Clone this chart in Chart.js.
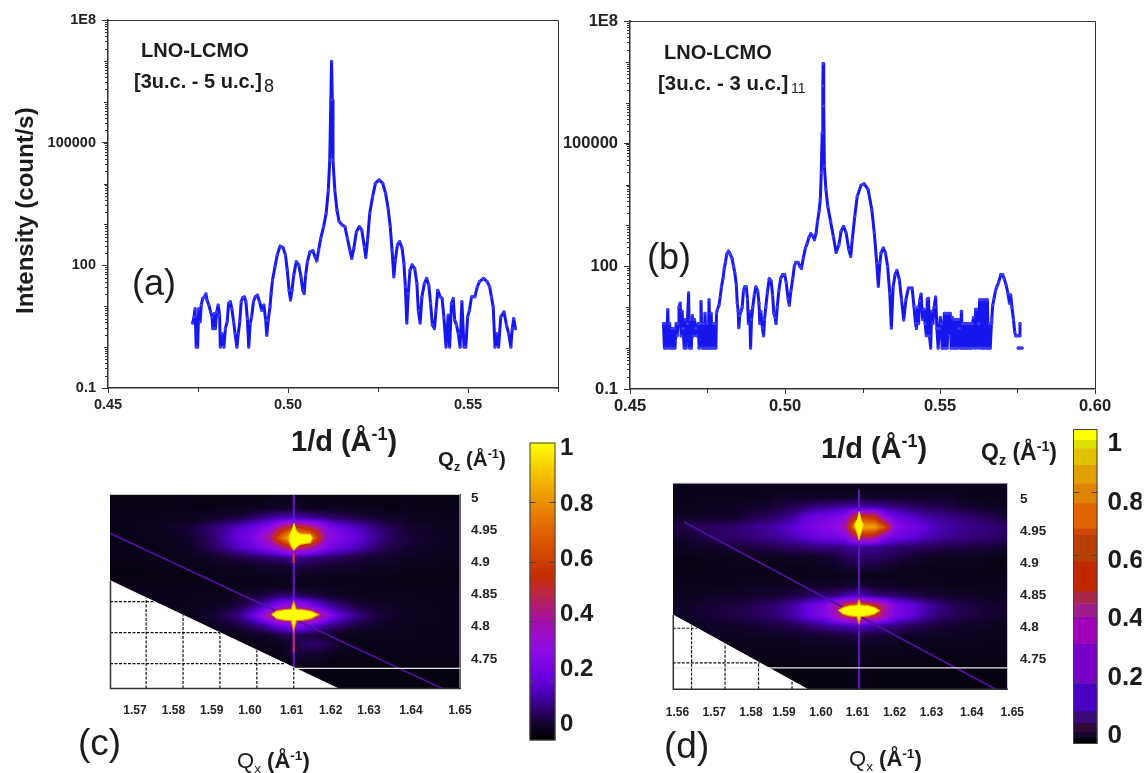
<!DOCTYPE html>
<html>
<head>
<meta charset="utf-8">
<script src="https://cdn.jsdelivr.net/npm/chart.js@4/dist/chart.umd.min.js"></script>
<style>
  body { margin: 0; background: #fff; width: 1144px; height: 773px; overflow: hidden; position: relative; }
  canvas { position: absolute; left: 0; top: 0; }
  .txt { position: absolute; transform: translateY(-50%); white-space: nowrap; color: #1c1c1c; font-family: "Liberation Sans", sans-serif; line-height: 1; z-index: 5; }
  .b { font-weight: bold; }
  sup, sub { font-size: 0.62em; line-height: 0; }
</style>
</head>
<body>
<canvas id="plotA" width="1144" height="773"></canvas>
<canvas id="plotB" width="1144" height="773"></canvas>
<canvas id="mapC" width="1144" height="773"></canvas>
<canvas id="mapD" width="1144" height="773"></canvas>
<canvas id="barC" width="1144" height="773"></canvas>
<canvas id="barD" width="1144" height="773"></canvas>

<div class="txt b" style="left:141px;top:50px;font-size:20px">LNO-LCMO</div>
<div class="txt b" style="left:134px;top:81px;font-size:20px">[3u.c. - 5 u.c.]</div>
<div class="txt" style="left:264px;top:86px;font-size:18px">8</div>
<div class="txt b" style="left:664px;top:52px;font-size:20px">LNO-LCMO</div>
<div class="txt b" style="left:658px;top:83px;font-size:20.4px">[3u.c. - 3 u.c.]</div>
<div class="txt" style="left:791px;top:88px;font-size:14px">11</div>
<div class="txt" style="left:132px;top:283px;font-size:36px">(a)</div>
<div class="txt" style="left:647px;top:257px;font-size:36px">(b)</div>
<div class="txt" style="left:78px;top:742px;font-size:37px">(c)</div>
<div class="txt" style="left:664px;top:745px;font-size:37px">(d)</div>
<div class="txt b" style="left:291px;top:441px;font-size:29px">1/d (Å<sup>-1</sup>)</div>
<div class="txt b" style="left:821px;top:448px;font-size:29px">1/d (Å<sup>-1</sup>)</div>
<div class="txt b" style="left:438px;top:459px;font-size:20.5px">Q<sub>z</sub> (Å<sup>-1</sup>)</div>
<div class="txt b" style="left:981px;top:452px;font-size:23px">Q<sub>z</sub> (Å<sup>-1</sup>)</div>
<div class="txt" style="left:237px;top:761px;font-size:22px">Q<sub>x</sub> <span class="b">(Å<sup>-1</sup>)</span></div>
<div class="txt" style="left:849px;top:759px;font-size:22px">Q<sub>x</sub> <span class="b">(Å<sup>-1</sup>)</span></div>

<script>
// panel (a): 1/d and log10 of the intensity
const qA = [
  .4735, .4739, .4742, .4745, .4749, .4752, .4756, .4759, .4763, .4768,
  .4772, .4775, .4780, .4785, .4789, .4791, .4795, .4798, .4802, .4806,
  .4810, .4812, .4816, .4822, .4826, .4831, .4835, .4840, .4844, .4849,
  .4853, .4858, .4862, .4866, .4870, .4874, .4879, .4883, .4887, .4891,
  .4895, .4899, .4904, .4909, .4915, .4921, .4927, .4933, .4938, .4941,
  .4945, .4950, .4953, .4957, .4964, .4970, .4978, .4986, .4993, .4998,
  .5003, .5007, .5011, .5016, .5023, .5030, .5036, .5041, .5045, .5049,
  .5054, .5061, .5069, .5075, .5080, .5085, .5091, .5099, .5106, .5112,
  .5116, .5119, .5121, .5123, .5125, .5130, .5136, .5142, .5150, .5158,
  .5165, .5172, .5177, .5183, .5190, .5198, .5205, .5212, .5216, .5221,
  .5227, .5235, .5243, .5253, .5263, .5271, .5278, .5284, .5289, .5294,
  .5298, .5304, .5310, .5317, .5322, .5326, .5330, .5334, .5339, .5345,
  .5352, .5358, .5362, .5367, .5372, .5379, .5385, .5391, .5396, .5401,
  .5407, .5411, .5416, .5423, .5428, .5433, .5439, .5445, .5449, .5454,
  .5459, .5463, .5468, .5473, .5478, .5483, .5489, .5494, .5499, .5504,
  .5510, .5519, .5526, .5532, .5543, .5553, .5560, .5565, .5570, .5575,
  .5580, .5585, .5591, .5600, .5607, .5613, .5619, .5623, .5627, .5632
];
const logIA = [
  .59, .74, .94, 0, 0, .94, .62, 1.03, 1.19, 1.23,
  1.30, 1.15, 1.03, .86, .74, .45, .82, .45, .86, 1.03,
  .78, 0, .33, 0, .45, .62, 1.07, 1.11, .94, .62,
  .33, 0, .33, .62, 1.11, 1.21, 1.23, 1.11, .70, 0,
  .58, .74, 1.11, 1.23, 1.27, 1.11, .90, 1.03, .66, .29,
  .66, .98, 1.31, 1.64, 1.97, 2.25, 2.47, 2.44, 2.25, 1.88,
  1.39, 1.15, 1.39, 1.76, 2.09, 2.01, 1.72, 1.39, 1.31, 1.76,
  2.09, 2.33, 2.36, 2.21, 2.11, 2.37, 2.66, 2.95, 3.27, 3.84,
  4.58, 6.05, 6.99, 6.05, 4.58, 3.84, 3.35, 3.07, 2.99, 2.95,
  2.66, 2.37, 2.17, 2.42, 2.82, 2.95, 2.86, 2.46, 2.19, 2.62,
  3.27, 3.68, 4.01, 4.09, 4.01, 3.76, 3.40, 2.95, 2.37, 1.72,
  2.13, 2.50, 2.58, 2.42, 2.05, 1.48, .59, 1.31, 1.88, 2.01,
  1.92, 1.56, .90, .59, 1.23, 1.56, 1.68, 1.52, 1.07, .54,
  .45, .90, 1.39, 1.23, 1.19, .74, 0, .78, 0, 1.07,
  1.19, .66, .54, .33, 0, 1.11, 0, 0, .74, .90,
  1.23, 1.23, 1.48, 1.60, 1.68, 1.60, 1.48, 1.23, .98, 0,
  .33, 0, .74, .86, .54, .33, 0, .45, .70, .45
];

// panel (b)
const qB = [
  .4608, .4611, .4614, .4617, .4622, .4625, .4628, .4631, .4635, .4638,
  .4642, .4645, .4649, .4652, .4655, .4658, .4662, .4665, .4668, .4671,
  .4675, .4678, .4681, .4685, .4689, .4692, .4695, .4698, .4701, .4705,
  .4708, .4712, .4715, .4720, .4723, .4726, .4729, .4733, .4736, .4739,
  .4742, .4746, .4749, .4752, .4755, .4759, .4762, .4765, .4768, .4771,
  .4775, .4777, .4779, .4782, .4787, .4791, .4795, .4800, .4804, .4808,
  .4812, .4818, .4823, .4829, .4834, .4838, .4843, .4846, .4849, .4851,
  .4854, .4858, .4862, .4866, .4870, .4875, .4879, .4882, .4886, .4889,
  .4892, .4896, .4901, .4906, .4912, .4916, .4919, .4922, .4927, .4931,
  .4934, .4938, .4943, .4949, .4955, .4960, .4964, .4968, .4971, .4975,
  .4980, .4986, .4992, .4999, .5004, .5010, .5014, .5019, .5025, .5030,
  .5035, .5042, .5048, .5053, .5059, .5066, .5071, .5077, .5083, .5089,
  .5095, .5100, .5105, .5110, .5114, .5117, .5120, .5122, .5123, .5125,
  .5127, .5132, .5138, .5147, .5156, .5165, .5174, .5181, .5189, .5197,
  .5206, .5212, .5217, .5225, .5233, .5245, .5255, .5268, .5280, .5288,
  .5296, .5301, .5306, .5310, .5317, .5324, .5331, .5338, .5343, .5349,
  .5355, .5361, .5369, .5376, .5383, .5390, .5398, .5410, .5416, .5421,
  .5424, .5428, .5431, .5434, .5439, .5444, .5448, .5452, .5456, .5459,
  .5463, .5466, .5470, .5473, .5477, .5481, .5486, .5490, .5494, .5498,
  .5501, .5504, .5507, .5510, .5514, .5517, .5520, .5523, .5527, .5530,
  .5533, .5536, .5540, .5543, .5546, .5549, .5552, .5556, .5559, .5562,
  .5565, .5569, .5570, .5573, .5576, .5579, .5583, .5586, .5589, .5592,
  .5596, .5599, .5602, .5605, .5608, .5612, .5615, .5618, .5621, .5625,
  .5628, .5631, .5634, .5638, .5641, .5644, .5647, .5651, .5653, .5656,
  .5659, .5662, .5666, .5667, .5670, .5674, .5679, .5683, .5689, .5696,
  .5702, .5707, .5713, .5719, .5724, .5728, .5732, .5737, .5741, .5744,
  .5750, .5758, .5758, .5758, .5752, .5757, .5765
];
const logIB = [
  .6, 0, .6, 0, .94, 0, .6, 0, .48, 0,
  .48, 0, .6, .3, .6, 1.0, 1.10, .3, .9, .48,
  0, .7, 0, .6, 1.35, 0, .7, 0, .8, .3,
  .7, .48, .3, .6, 0, .6, 1.14, 0, .6, 0,
  .85, 0, .6, 0, 1.18, 0, .85, 0, .6, 0,
  .6, 0, .85, .95, 1.05, 1.25, 1.5, 1.7, 1.95, 2.1,
  2.3, 2.37, 2.3, 2.2, 2.0, 1.85, 1.55, 1.1, .9, .5,
  .8, .9, 1.0, 1.4, 1.5, 1.5, 1.2, .6, .9, 0,
  .7, 1.0, 1.3, 1.5, 1.4, 1.1, .6, .9, .5, .3,
  .7, 1.0, 1.35, 1.7, 1.65, 1.3, .85, .75, .6, 1.0,
  1.4, 1.7, 1.8, 1.8, 1.6, 1.2, 1.05, 1.4, 1.7, 2.0,
  2.1, 2.1, 2.0, 1.95, 2.2, 2.45, 2.55, 2.7, 2.8, 2.75,
  2.65, 2.8, 3.1, 3.35, 3.64, 4.29, 5.27, 6.41, 6.96, 5.92,
  4.45, 3.88, 3.47, 3.10, 2.73, 2.34, 2.53, 2.86, 2.98, 2.82,
  2.41, 2.24, 2.65, 3.22, 3.71, 3.98, 4.02, 3.88, 3.39, 2.82,
  2.08, 1.51, 2.08, 2.33, 2.45, 2.33, 2.0, 1.34, .49, 1.51,
  1.79, 1.90, 1.67, 1.18, .69, 1.18, 1.47, 1.47, 1.02, .6,
  .48, 1.0, .6, 1.15, 1.32, .7, .95, .6, .3, 1.2,
  1.22, .3, 0, .9, .6, 1.0, 1.25, .48, 0, .48,
  .75, .6, 0, 0, .85, 0, .85, 0, .85, .3,
  .85, 0, .75, 0, .7, 0, .7, 0, .7, .48,
  0, .9, 0, .6, 0, .6, 0, .6, 0, .6,
  0, .6, 0, .6, .75, 0, .95, .95, 0, .6,
  1.18, 0, 1.18, 0, 1.18, 0, 1.18, 0, 1.18, 0,
  .6, 0, .6, .7, 1.05, 1.2, 1.4, 1.5, 1.6, 1.8,
  1.8, 1.7, 1.55, 1.35, 1.1, 1.3, 1.0, .7, .4, .3,
  .3, .3, .6, null, 0, 0, 0
];

const yTickValues = [0.1, 100, 100000, 100000000];
const yTickLabels = ["0.1", "100", "100000", "1E8"];
const decades = [0.1, 1, 10, 100, 1000, 10000, 100000, 1000000, 10000000];
const decadeSteps = [1, 2, 3, 4, 5, 6, 7, 8, 9];
const xTicksA = [0.45, 0.50, 0.55];
const xMinorA = [0.475, 0.525, 0.575];
const xTicksB = [0.45, 0.50, 0.55, 0.60];
const xMinorB = [0.475, 0.525, 0.575];

// reciprocal space maps, intensity x 100, top row first
const heatC = [
  [2,2,2,2,2,2,2,3,2,2,2,2,2,3,2,2,3,3,3,3,2,2,2,2,3,2,2,2,2,2,3,2,2,2,2,2],
  [3,3,3,3,3,3,3,3,3,3,3,3,3,3,4,4,5,5,5,5,4,4,4,4,3,3,3,3,3,3,3,3,3,3,3,3],
  [3,3,3,3,3,3,3,3,4,4,5,6,7,8,10,12,14,16,17,16,15,13,11,10,9,8,7,6,5,5,4,3,3,3,3,3],
  [3,3,3,4,4,4,5,6,7,9,11,13,16,19,22,26,32,46,58,58,52,40,28,23,20,17,14,11,9,8,6,5,5,4,4,3],
  [3,3,3,3,3,3,4,5,6,8,10,14,18,22,26,32,45,70,90,90,85,55,30,27,24,20,16,13,10,8,7,6,5,5,4,3],
  [3,3,3,3,3,3,4,4,5,7,9,12,15,18,21,25,30,40,52,50,44,33,25,22,19,16,13,10,8,7,6,5,5,4,4,3],
  [3,3,3,3,3,3,3,3,4,4,5,6,7,8,9,10,11,12,14,13,12,11,10,9,8,7,6,6,5,5,4,4,4,3,3,3],
  [2,2,2,2,3,3,3,3,3,3,3,3,4,4,4,5,5,5,6,7,7,6,6,5,5,5,4,4,4,4,3,3,3,3,3,3],
  [2,2,2,2,2,2,2,2,2,3,3,3,3,3,3,3,3,4,4,4,4,4,3,3,3,3,3,3,3,2,2,2,2,2,2,2],
  [3,3,3,3,3,3,3,3,3,3,3,3,3,3,3,3,3,3,3,3,3,3,3,3,3,3,3,3,3,3,3,3,3,3,3,3],
  [3,3,3,3,3,3,3,3,3,3,3,3,4,5,6,7,9,11,11,10,8,7,6,5,4,3,3,3,3,3,3,3,3,3,3,3],
  [3,3,3,3,3,3,3,3,3,4,4,5,6,8,11,15,22,30,34,34,28,20,14,11,9,7,6,5,5,4,4,3,3,3,3,3],
  [3,3,3,3,3,3,3,3,4,5,6,8,10,13,20,30,45,60,60,60,60,45,30,20,16,12,9,7,6,5,4,4,4,3,3,3],
  [3,3,3,3,3,3,3,3,3,4,4,5,6,8,10,13,18,24,28,28,24,17,13,11,9,7,6,5,4,4,4,3,3,3,3,3],
  [3,3,3,3,3,3,3,3,3,3,3,3,3,3,4,5,6,7,8,8,7,6,5,4,3,3,3,3,3,3,3,3,3,3,3,3],
  [3,3,3,3,3,3,3,3,3,3,3,3,3,3,3,3,3,3,6,8,10,10,8,6,3,3,3,3,3,3,3,3,3,3,3,3],
  [3,3,3,3,3,3,3,3,3,3,3,3,3,3,3,3,3,3,5,6,6,5,4,3,3,3,3,3,3,3,3,3,3,3,3,3],
  [2,2,2,2,2,2,2,2,2,2,2,2,2,2,2,2,2,2,2,3,3,3,2,2,2,2,2,2,2,2,2,2,2,2,2,2],
  [2,2,2,2,2,2,2,2,2,2,2,2,2,2,2,2,2,2,2,2,2,2,2,2,2,2,2,2,2,2,2,2,2,2,2,2],
  [2,2,2,2,2,2,2,2,2,2,2,2,2,2,2,2,2,2,2,2,2,2,2,2,2,2,2,2,2,2,2,2,2,2,2,2]
];
const heatD = [
  [3,3,3,3,3,3,3,3,3,3,3,3,3,3,3,3,3,3,3,3,3,3,3,3,3,3,3,3,3,3,3,3,3,3],
  [3,3,3,3,3,3,3,3,3,3,5,5,5,5,5,5,5,5,5,5,5,5,5,5,5,5,5,5,5,3,3,3,3,3],
  [3,3,3,4,4,4,5,5,6,6,7,8,9,10,12,13,14,15,16,16,15,14,12,11,10,9,8,8,7,6,6,5,5,4],
  [5,5,5,5,5,5,5,7,8,9,10,12,15,20,23,24,26,30,55,60,55,30,24,20,18,15,14,13,12,11,10,9,8,6],
  [7,8,9,9,10,10,11,12,13,14,15,18,20,24,26,28,30,40,80,85,85,65,30,26,24,20,17,15,14,13,12,12,11,10],
  [6,6,7,8,9,10,10,11,12,13,14,15,17,20,22,24,25,27,45,50,45,28,24,22,20,17,15,14,13,12,11,11,10,9],
  [4,4,5,5,6,6,7,7,8,8,9,10,10,11,12,12,12,13,14,13,13,12,11,10,10,9,9,8,8,8,7,7,7,6],
  [3,3,3,3,3,3,4,4,4,4,4,5,5,5,5,6,7,9,10,10,10,9,8,7,6,5,5,4,4,4,4,4,3,3],
  [2,2,2,3,3,3,3,3,3,3,3,3,3,3,4,4,5,6,7,7,7,6,5,4,4,3,3,3,3,3,3,3,2,2],
  [3,3,3,3,3,3,3,3,3,3,3,3,3,3,3,3,3,3,3,3,3,3,3,3,3,3,3,3,3,3,3,3,3,3],
  [3,3,3,3,3,3,3,4,4,4,4,4,4,5,5,5,5,6,6,6,5,5,5,4,4,4,4,3,3,3,3,3,3,3],
  [4,4,4,4,5,5,5,5,6,6,6,7,8,9,10,11,12,15,18,16,12,11,10,9,8,7,6,6,5,5,5,4,4,4],
  [5,5,6,6,6,7,7,8,9,10,11,13,16,20,24,28,40,55,60,60,55,42,28,24,20,16,13,11,9,8,7,6,6,5],
  [5,5,6,6,7,7,8,8,9,10,11,13,16,20,24,27,38,52,58,58,52,40,27,23,19,15,12,10,9,8,7,6,6,5],
  [4,4,4,5,5,5,5,6,6,7,7,8,9,10,12,14,15,16,18,17,15,13,12,10,9,8,7,6,6,5,5,5,4,4],
  [3,3,3,4,4,4,4,4,4,5,5,5,5,6,6,6,7,7,8,7,7,6,6,5,5,5,4,4,4,4,4,3,3,3],
  [3,3,3,3,3,3,3,3,3,3,3,3,3,4,4,4,4,4,5,4,4,4,4,3,3,3,3,3,3,3,3,3,3,3],
  [3,3,3,3,3,3,3,3,3,3,3,3,3,3,3,3,3,3,4,4,3,3,3,3,3,3,3,3,3,3,3,3,3,3],
  [2,2,2,2,2,2,2,2,2,2,2,2,2,2,2,2,2,2,3,3,2,2,2,2,2,2,2,2,2,2,2,2,2,2],
  [2,2,2,2,2,2,2,2,2,2,2,2,2,2,2,2,2,2,3,3,2,2,2,2,2,2,2,2,2,2,2,2,2,2],
  [2,2,2,2,2,2,2,2,2,2,2,2,2,2,2,2,2,2,3,3,2,2,2,2,2,2,2,2,2,2,2,2,2,2]
];

// yellow cores of the Bragg spots
const coreQxC1 = [1.6100, 1.6107, 1.6118, 1.6145, 1.6150, 1.6145, 1.6118, 1.6107, 1.6100, 1.6093, 1.6088, 1.6088, 1.6093];
const coreQzC1 = [4.9766, 4.9638, 4.9590, 4.9582, 4.9526, 4.9454, 4.9430, 4.9382, 4.9334, 4.9398, 4.9478, 4.9558, 4.9638];
const coreQxC2 = [1.6040, 1.6052, 1.6074, 1.6093, 1.6100, 1.6107, 1.6126, 1.6148, 1.6168, 1.6148, 1.6126, 1.6107, 1.6100, 1.6093, 1.6074, 1.6052];
const coreQzC2 = [4.8292, 4.8348, 4.8372, 4.8380, 4.8500, 4.8380, 4.8372, 4.8348, 4.8292, 4.8227, 4.8203, 4.8195, 4.8035, 4.8195, 4.8203, 4.8227];
const coreQxD1 = [1.6100, 1.6106, 1.6113, 1.6106, 1.6100, 1.6094, 1.6087, 1.6094];
const coreQzD1 = [4.9683, 4.9561, 4.9489, 4.9388, 4.9280, 4.9388, 4.9489, 4.9561];
const coreQxD2 = [1.6038, 1.6052, 1.6073, 1.6094, 1.6100, 1.6106, 1.6127, 1.6148, 1.6162, 1.6148, 1.6127, 1.6106, 1.6100, 1.6094, 1.6073, 1.6052];
const coreQzD2 = [4.8257, 4.8300, 4.8329, 4.8336, 4.8408, 4.8336, 4.8329, 4.8300, 4.8257, 4.8206, 4.8177, 4.8170, 4.8069, 4.8170, 4.8177, 4.8206];

const qxLabelsC = ["1.57", "1.58", "1.59", "1.60", "1.61", "1.62", "1.63", "1.64", "1.65"];
const qxLabelsD = ["1.56", "1.57", "1.58", "1.59", "1.60", "1.61", "1.62", "1.63", "1.64", "1.65"];
const qzLabels = [5, 4.95, 4.9, 4.85, 4.8, 4.75];
const barLabels = [1, 0.8, 0.6, 0.4, 0.2, 0];
const barTicks = [0.2, 0.4, 0.6, 0.8];

// colour scale, value and rgb
const cmapV = [0, .05, .1, .15, .2, .3, .4, .5, .55, .65, .75, .85, .95, 1];
const cmapC = [[0,0,0],[16,4,40],[45,0,105],[70,0,170],[100,0,220],[140,10,230],[165,16,170],[190,40,60],[195,45,0],[215,80,0],[230,120,0],[240,170,0],[250,225,0],[255,255,0]];

// stepped colour bar of panel (d)
const bandEdgesD = [0, .018, .037, .066, .103, .192, .319, .402, .446, .483, .578, .663, .684, .763, .827, .885, .938, .964, 1];
const bandColorsD = ["#000000", "#14082e", "#2d0a3a", "#3a0a78", "#4a00c0", "#7800c8", "#a000b8", "#a01e8c", "#a8284c", "#c02800", "#b84000", "#d04800", "#e06400", "#e08400", "#e0a000", "#e0c000", "#e0e000", "#ffff00"];

const FONT = "'Liberation Sans', sans-serif";
Chart.defaults.font.family = FONT;
Chart.defaults.animation = false;

const zip = (xs, ys) => xs.map((x, i) => ({ x: x, y: ys[i] }));
const setTicks = (values) => (scale) => { scale.ticks = values.map((v) => ({ value: v })); };

function colorAt(v) {
  let i = 0;
  while (i < cmapV.length - 2 && v > cmapV[i + 1]) i++;
  const t = Math.min(1, Math.max(0, (v - cmapV[i]) / (cmapV[i + 1] - cmapV[i])));
  return [0, 1, 2].map((k) => cmapC[i][k] + (cmapC[i + 1][k] - cmapC[i][k]) * t);
}

// small ticks on the log axis and between the labelled q values, plus the frame
const curveAxisPlugin = {
  id: "curveAxis",
  afterDraw(chart, args, opts) {
    const { ctx, chartArea: a, scales } = chart;
    ctx.save();
    ctx.strokeStyle = "#333";
    ctx.lineWidth = 1;
    ctx.beginPath();
    decades.forEach((d) => {
      decadeSteps.forEach((m) => {
        const y = Math.round(scales.y.getPixelForValue(d * m)) + 0.5;
        ctx.moveTo(a.left, y);
        ctx.lineTo(a.left - (m === 1 ? 4 : 3), y);
      });
    });
    opts.minor.forEach((v) => {
      const x = Math.round(scales.x.getPixelForValue(v)) + 0.5;
      ctx.moveTo(x, a.bottom);
      ctx.lineTo(x, a.bottom + 4);
    });
    ctx.moveTo(a.left, a.top + 0.5);
    ctx.lineTo(a.right + 0.5, a.top + 0.5);
    ctx.lineTo(a.right + 0.5, a.bottom);
    ctx.stroke();
    ctx.restore();
  },
};

function makeCurve(id, q, logI, box, xTicks, xMinor, xMax, tickSize, yTitle) {
  return new Chart(document.getElementById(id), {
    type: "scatter",
    data: {
      datasets: [{
        data: zip(q, logI.map((v) => (v === null ? null : Math.pow(10, v)))),
        showLine: true,
        spanGaps: false,
        borderColor: "#1616ee",
        borderWidth: 3,
        borderJoinStyle: "round",
        borderCapStyle: "round",
        pointRadius: 1.6,
        pointBackgroundColor: "#3c3cff",
        pointBorderWidth: 0,
      }],
    },
    options: {
      responsive: false,
      layout: { padding: { left: box.left - 96, top: box.top, right: 1144 - box.right, bottom: 773 - box.bottom - 30 } },
      plugins: { legend: { display: false }, tooltip: { enabled: false }, curveAxis: { minor: xMinor } },
      scales: {
        x: {
          type: "linear", min: 0.45, max: xMax,
          afterBuildTicks: setTicks(xTicks),
          afterFit: (s) => { s.height = 30; },
          grid: { drawOnChartArea: false, tickLength: 5, tickColor: "#333" },
          border: { color: "#333", width: 1.5 },
          ticks: { autoSkip: false, maxRotation: 0, padding: 3, color: "#222", font: { size: tickSize, weight: "bold" }, callback: (v) => v.toFixed(2) },
        },
        y: {
          type: "logarithmic", min: 0.1, max: 1e8,
          afterBuildTicks: setTicks(yTickValues),
          afterFit: (s) => { s.width = 96; },
          grid: { drawOnChartArea: false, tickLength: 6, tickColor: "#333" },
          border: { color: "#333", width: 1.5 },
          title: { display: !!yTitle, text: yTitle, color: "#1c1c1c", padding: 0, font: { size: 24, weight: "bold" } },
          ticks: { autoSkip: false, padding: 6, color: "#222", font: { size: tickSize, weight: "bold" }, callback: (v) => yTickLabels[yTickValues.indexOf(v)] },
        },
      },
    },
    plugins: [curveAxisPlugin],
  });
}

makeCurve("plotA", qA, logIA, { left: 108, right: 558, top: 20, bottom: 388 }, xTicksA, xMinorA, 0.575, 14.5, "Intensity (count/s)  ");
makeCurve("plotB", qB, logIB, { left: 630, right: 1095, top: 21, bottom: 389 }, xTicksB, xMinorB, 0.60, 16.5, "");

// paints the intensity table, cell values blended in value space and coloured afterwards
const heatPlugin = {
  id: "heat",
  beforeDatasetsDraw(chart, args, opts) {
    const { ctx, chartArea: a, scales } = chart;
    const w = Math.round(a.right - a.left);
    const h = Math.round(a.bottom - a.top);
    const rows = opts.table.length;
    const cols = opts.table[0].length;
    const off = document.createElement("canvas");
    off.width = w;
    off.height = h;
    const octx = off.getContext("2d");
    const img = octx.createImageData(w, h);
    for (let py = 0; py < h; py++) {
      const qz = scales.y.getValueForPixel(a.top + py + 0.5);
      const fy = Math.min(rows - 1, Math.max(0, (scales.y.max - qz) / (scales.y.max - scales.y.min) * rows - 0.5));
      const y0 = Math.floor(fy);
      const y1 = Math.min(rows - 1, y0 + 1);
      for (let px = 0; px < w; px++) {
        const qx = scales.x.getValueForPixel(a.left + px + 0.5);
        const fx = Math.min(cols - 1, Math.max(0, (qx - scales.x.min) / (scales.x.max - scales.x.min) * cols - 0.5));
        const x0 = Math.floor(fx);
        const x1 = Math.min(cols - 1, x0 + 1);
        const top = opts.table[y0][x0] * (1 - (fx - x0)) + opts.table[y0][x1] * (fx - x0);
        const bot = opts.table[y1][x0] * (1 - (fx - x0)) + opts.table[y1][x1] * (fx - x0);
        const c = colorAt((top * (1 - (fy - y0)) + bot * (fy - y0)) / 100);
        const k = (py * w + px) * 4;
        img.data[k] = c[0];
        img.data[k + 1] = c[1];
        img.data[k + 2] = c[2];
        img.data[k + 3] = 255;
      }
    }
    octx.putImageData(img, 0, 0);
    ctx.drawImage(off, a.left, a.top);
  },
  afterDraw(chart) {
    const { ctx, chartArea: a } = chart;
    ctx.save();
    ctx.lineWidth = 1;
    ctx.strokeStyle = "#c8c8c8";
    ctx.beginPath();
    ctx.moveTo(a.left, a.top + 0.5);
    ctx.lineTo(a.right - 0.5, a.top + 0.5);
    ctx.lineTo(a.right - 0.5, a.bottom);
    ctx.stroke();
    ctx.strokeStyle = "#333";
    ctx.lineWidth = 1.5;
    ctx.beginPath();
    ctx.moveTo(a.left + 0.5, chart.scales.y.getPixelForValue(chart.options.plugins.heat.wedgeTop));
    ctx.lineTo(a.left + 0.5, a.bottom);
    ctx.lineTo(a.right, a.bottom);
    ctx.stroke();
    ctx.restore();
  },
};

function line(data, color, width, order, dash) {
  return { data: data, showLine: true, pointRadius: 0, borderColor: color, borderWidth: width, order: order, borderDash: dash || [], fill: false };
}
function shape(xs, ys, color, edge, order) {
  return { data: zip(xs, ys), showLine: true, pointRadius: 0, borderColor: edge, backgroundColor: color, borderWidth: 1.2, fill: "shape", order: order };
}

function makeMap(id, m) {
  const wedgeTop = m.wedge[0];
  const wedgeEnd = m.wedge[1];
  const edgeZ = (qx) => wedgeTop + (qx - m.qx[0]) / (wedgeEnd - m.qx[0]) * (m.qz[0] - wedgeTop);
  const edgeX = (qz) => m.qx[0] + (wedgeTop - qz) / (wedgeTop - m.qz[0]) * (wedgeEnd - m.qx[0]);
  const datasets = [
    line([{ x: 1.61, y: m.streakEnd[0] }, { x: 1.61, y: m.streakEnd[1] }], m.streakColor, 2, 8),
  ];
  m.hot.forEach((s) => datasets.push(line([{ x: 1.61, y: s[0] }, { x: 1.61, y: s[1] }], s[2], 2.2, 7)));
  datasets.push(line([{ x: m.diag[0], y: m.diag[1] }, { x: m.diag[2], y: m.diag[3] }], "#5010a0", 1.6, 9));
  datasets.push(shape(m.core1[0], m.core1[1], "#ffff00", "#ffd000", 6));
  datasets.push(shape(m.core2[0], m.core2[1], "#ffff00", "#f09000", 6));
  datasets.push(shape([m.qx[0], wedgeEnd, m.qx[0]], [wedgeTop, m.qz[0], m.qz[0]], "#ffffff", "#ffffff", 5));
  datasets.push(line([{ x: m.whiteFrom, y: m.whiteZ }, { x: m.qx[1], y: m.whiteZ }], "#e8e8e8", 1.3, 4));
  m.gridQx.forEach((v) => datasets.push(line([{ x: v, y: m.qz[0] }, { x: v, y: edgeZ(v) }], "#111", 1.2, 3, [3, 1.5])));
  m.gridQz.forEach((v) => datasets.push(line([{ x: m.qx[0], y: v }, { x: edgeX(v), y: v }], "#111", 1.2, 3, [3, 1.5])));
  return new Chart(document.getElementById(id), {
    type: "scatter",
    data: { datasets: datasets },
    options: {
      responsive: false,
      layout: { padding: { left: m.box.left, top: m.box.top, right: 1144 - m.box.right - 45, bottom: 773 - m.box.bottom - 40 } },
      plugins: { legend: { display: false }, tooltip: { enabled: false }, heat: { table: m.table, wedgeTop: wedgeTop } },
      scales: {
        x: { type: "linear", display: false, min: m.qx[0], max: m.qx[1] },
        y: { type: "linear", display: false, min: m.qz[0], max: m.qz[1] },
        xt: {
          type: "linear", position: "bottom", min: m.box.left, max: m.box.right,
          afterBuildTicks: setTicks(m.xLabelAt),
          afterFit: (s) => { s.height = 40; },
          grid: { display: false, drawTicks: false }, border: { display: false },
          ticks: { autoSkip: false, maxRotation: 0, padding: m.xPad, color: "#222", font: { size: 12, weight: "bold" }, callback: (v) => m.xLabels[m.xLabelAt.indexOf(v)] },
        },
        yt: {
          type: "linear", position: "right", min: m.labelZ[0], max: m.labelZ[1],
          afterBuildTicks: setTicks(qzLabels),
          afterFit: (s) => { s.width = 45; },
          grid: { display: false, drawTicks: false }, border: { display: false },
          ticks: { autoSkip: false, padding: m.yPad, color: "#222", font: { size: 13.5, weight: "bold" }, callback: (v) => String(v) },
        },
      },
    },
    plugins: [heatPlugin],
  });
}

makeMap("mapC", {
  box: { left: 110, right: 460.5, top: 494, bottom: 688.5 },
  qx: [1.5602, 1.6552], qz: [4.71, 5.0237], labelZ: [4.704, 5.0062],
  table: heatC, wedge: [4.8839, 1.6219],
  gridQx: [1.57, 1.58, 1.59, 1.60, 1.61], gridQz: [4.85, 4.80, 4.75],
  streakEnd: [5.0237, 4.73], streakColor: "#6a12d8",
  hot: [[4.9285, 4.9125, "#c83a30"], [4.8035, 4.768, "#b82a70"]],
  diag: [1.5602, 4.9603, 1.6504, 4.7097],
  core1: [coreQxC1, coreQzC1], core2: [coreQxC2, coreQzC2],
  whiteFrom: 1.61, whiteZ: 4.7426,
  xLabels: qxLabelsC, xLabelAt: [135, 173.5, 211.7, 250, 291.7, 330.7, 369, 411, 460],
  xPad: 15, yPad: 10.5,
});
makeMap("mapD", {
  box: { left: 672.8, right: 1008, top: 482.7, bottom: 689.3 },
  qx: [1.5544, 1.6545], qz: [4.712, 5.0098], labelZ: [4.704, 5.0259],
  table: heatD, wedge: [4.8192, 1.5946],
  gridQx: [1.56, 1.57, 1.58, 1.59], gridQz: [4.80, 4.75],
  streakEnd: [5.0, 4.712], streakColor: "#5a14b8",
  hot: [],
  diag: [1.5578, 4.9532, 1.6508, 4.712],
  core1: [coreQxD1, coreQzD1], core2: [coreQxD2, coreQzD2],
  whiteFrom: 1.5544, whiteZ: 4.7428,
  xLabels: qxLabelsD, xLabelAt: [677.5, 714.3, 751, 784, 821, 857.5, 894.6, 931.4, 971.8, 1012.3],
  xPad: 16, yPad: 12,
});

// colour bars
const barPlugin = {
  id: "barFrame",
  afterDraw(chart) {
    const { ctx, chartArea: a, scales } = chart;
    ctx.save();
    ctx.strokeStyle = "#444";
    ctx.lineWidth = 1;
    ctx.strokeRect(a.left + 0.5, a.top + 0.5, a.right - a.left - 1, a.bottom - a.top - 1);
    ctx.beginPath();
    barTicks.forEach((v) => {
      const y = Math.round(scales.y.getPixelForValue(v)) + 0.5;
      ctx.moveTo(a.left, y);
      ctx.lineTo(a.left + 6, y);
      ctx.moveTo(a.right - 6, y);
      ctx.lineTo(a.right, y);
    });
    ctx.stroke();
    ctx.restore();
  },
};

function makeBar(id, box, labelRange, fontSize, pad, datasets) {
  return new Chart(document.getElementById(id), {
    type: "bar",
    data: { labels: [""], datasets: datasets },
    options: {
      responsive: false,
      layout: { padding: { left: box.left, top: box.top, right: 1144 - box.right - 44, bottom: 773 - box.bottom } },
      plugins: { legend: { display: false }, tooltip: { enabled: false } },
      scales: {
        x: { type: "category", display: false, stacked: true },
        y: { type: "linear", display: false, min: 0, max: 1 },
        yt: {
          type: "linear", position: "right", min: labelRange[0], max: labelRange[1],
          afterBuildTicks: setTicks(barLabels),
          afterFit: (s) => { s.width = 44; },
          grid: { display: false, drawTicks: false }, border: { display: false },
          ticks: { autoSkip: false, padding: pad, color: "#1c1c1c", font: { size: fontSize, weight: "bold" }, callback: (v) => String(v) },
        },
      },
    },
    plugins: [barPlugin],
  });
}

const gradientFill = (ctx) => {
  const chart = ctx.chart;
  if (!chart.chartArea) return "#000";
  const g = chart.ctx.createLinearGradient(0, chart.chartArea.bottom, 0, chart.chartArea.top);
  cmapV.forEach((v, i) => g.addColorStop(v, "rgb(" + cmapC[i].join(",") + ")"));
  return g;
};

makeBar("barC", { left: 529.5, right: 555.5, top: 442.5, bottom: 740.5 }, [-0.0568, 1.0228], 24, 4.5, [
  { data: [[0, 1]], backgroundColor: gradientFill, barPercentage: 1, categoryPercentage: 1 },
]);
makeBar("barD", { left: 1073, right: 1097.5, top: 429, bottom: 744 }, [-0.027, 1.051], 26, 10, bandColorsD.map((c, i) => ({
  data: [[bandEdgesD[i], bandEdgesD[i + 1]]], backgroundColor: c, barPercentage: 1, categoryPercentage: 1,
})));
</script>
</body>
</html>
